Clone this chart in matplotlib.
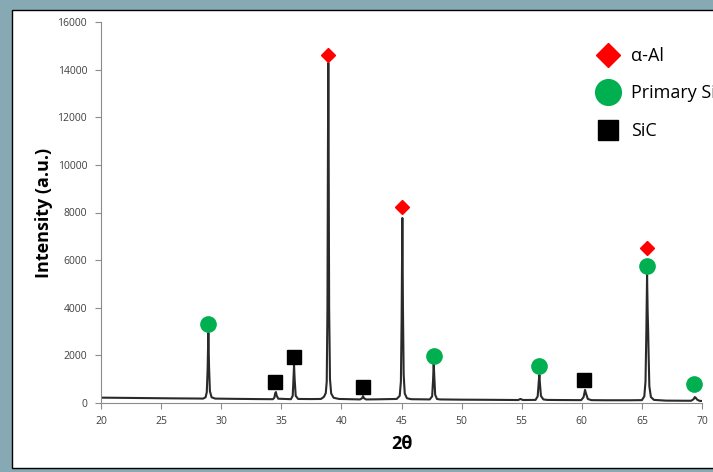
import matplotlib
matplotlib.use("Agg")
import matplotlib.pyplot as plt
from matplotlib.patches import Rectangle
from matplotlib.lines import Line2D

plt.rcParams['font.family'] = ['Open Sans', 'DejaVu Sans']

# XRD trace (2theta, intensity)
two_theta = [20.0, 22.0, 24.0, 26.0, 28.0, 28.5, 28.7, 28.8, 28.87, 28.93, 28.99, 29.06, 29.2, 29.5,
             31.0, 33.0, 34.3, 34.42, 34.5, 34.55, 34.62, 34.75, 35.8, 35.95, 36.02, 36.06, 36.11,
             36.2, 36.4, 37.5, 38.3, 38.55, 38.7, 38.78, 38.84, 38.88, 38.91, 38.94, 38.98, 39.05,
             39.15, 39.35, 39.8, 41.55, 41.72, 41.8, 41.88, 42.05, 43.0, 44.6, 44.85, 44.95, 45.01,
             45.07, 45.12, 45.18, 45.27, 45.45, 45.8, 47.35, 47.55, 47.63, 47.68, 47.73, 47.8, 47.95,
             48.2, 50.0, 52.0, 54.7, 54.9, 55.1, 56.15, 56.33, 56.42, 56.47, 56.52, 56.6, 56.8, 57.1,
             58.0, 59.95, 60.15, 60.27, 60.35, 60.5, 60.8, 62.0, 64.0, 65.0, 65.2, 65.3, 65.37, 65.43,
             65.48, 65.52, 65.56, 65.62, 65.75, 66.0, 67.0, 68.5, 69.1, 69.3, 69.4, 69.48, 69.6, 69.8,
             70.0]
intensity = [225, 215, 205, 195, 188, 185, 240, 450, 1400, 2950, 1500, 500, 240, 185,
             175, 165, 160, 220, 420, 460, 300, 180, 160, 300, 1100, 1600, 1000,
             300, 170, 165, 170, 260, 420, 900, 4000, 10500, 14280, 10500, 4000, 1000,
             400, 220, 170, 150, 200, 290, 200, 150, 155, 170, 300, 900, 3500,
             7770, 4000, 1200, 400, 200, 160, 150, 280, 1000, 1680, 1100, 350, 170,
             150, 140, 135, 125, 170, 125, 130, 280, 900, 1180, 800, 300, 150, 130,
             125, 120, 250, 550, 400, 170, 120, 115, 115, 120, 280, 900, 3000, 5380,
             3800, 3050, 2000, 700, 250, 130, 100, 95, 95, 160, 250, 220, 140, 90,
             85]

# phase markers
al_x = [38.91, 45.07, 65.45]
al_y = [14620, 8230, 6510]
si_x = [28.93, 47.68, 56.47, 65.43, 69.35]
si_y = [3320, 1970, 1550, 5750, 800]
sic_x = [34.48, 36.06, 41.77, 60.2]
sic_y = [880, 1930, 690, 970]

fig = plt.figure(figsize=(7.13, 4.72), dpi=100, facecolor='#86a9b3')
fig.patches.append(Rectangle((12 / 713, 4 / 472), 1.0, 458 / 472, transform=fig.transFigure,
                             facecolor='white', edgecolor='black', lw=1.0, zorder=-5))

ax = fig.add_axes([101 / 713, 69 / 472, 601 / 713, 381 / 472])
ax.set_facecolor('none')
ax.set_zorder(2)

ax.plot(two_theta, intensity, color='#2a2a2a', lw=1.5, zorder=2)
ax.plot(al_x, al_y, 'D', color='#ff0000', ms=7.5, ls='none', zorder=3, clip_on=False)
ax.plot(si_x, si_y, 'o', color='#00b050', ms=11, ls='none', zorder=3, clip_on=False)
ax.plot(sic_x, sic_y, 's', color='black', ms=10.5, ls='none', zorder=3, clip_on=False)

ax.set_xlim(20, 70)
ax.set_ylim(0, 16000)
ax.set_xticks(range(20, 71, 5))
ax.set_yticks(range(0, 16001, 2000))
for s in ['top', 'right']:
    ax.spines[s].set_visible(False)
for s in ['left', 'bottom']:
    ax.spines[s].set_color('#8c8c8c')
    ax.spines[s].set_linewidth(0.8)
ax.tick_params(direction='out', length=4, width=0.8, color='#8c8c8c', labelsize=7.5,
               labelcolor='#404040')
ax.tick_params(axis='y', pad=6)
ax.tick_params(axis='x', pad=5)

ax.set_xlabel('2θ', fontsize=13, fontweight='bold', labelpad=6)
ax.set_ylabel('Intensity (a.u.)', fontsize=13, fontweight='bold', labelpad=3)

handles = [Line2D([], [], marker='D', color='#ff0000', ls='none', ms=12),
           Line2D([], [], marker='o', color='#00b050', ls='none', ms=18.5),
           Line2D([], [], marker='s', color='black', ls='none', ms=14)]
labels = ['α-Al', 'Primary Si', 'SiC']
leg = fig.legend(handles, labels, loc='upper left', bbox_to_anchor=(590 / 713, 1 - 47 / 472),
                 frameon=False, fontsize=13, labelspacing=1.08, handletextpad=0.25,
                 borderaxespad=0, borderpad=0)
leg.set_zorder(3)

fig.savefig('out.png', dpi=100, facecolor=fig.get_facecolor())
